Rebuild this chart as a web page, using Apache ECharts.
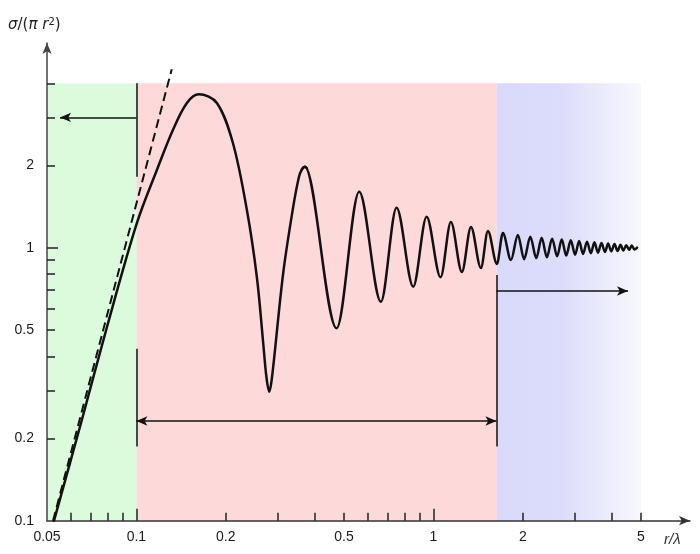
<!DOCTYPE html>
<html><head><meta charset="utf-8">
<script src="https://cdn.jsdelivr.net/npm/echarts@6/dist/echarts.min.js"></script>
<style>html,body{margin:0;padding:0;background:#fff}#c{width:700px;height:554px}</style>
</head><body><div id="c"></div>
<script>
// ---- data ----
// main lobe, first (deep) minimum and the rise to the second maximum
const headX = [0.0528,0.0655,0.0796,0.1004,0.1172,0.1327,0.1479,0.1623,
  0.1866,0.2113,0.2355,0.2544,0.2673,0.2740,0.2800,0.2862,
  0.3120,0.3373,0.3524,0.3608,0.3693,0.3751];
const headY = [0.1,0.2338,0.5124,1.232,1.926,2.699,3.389,3.647,
  3.389,2.418,1.374,0.781,0.4466,0.3360,0.2970,0.3360,
  0.8058,1.413,1.812,1.937,1.980,1.953];
// resonance / optical oscillation: successive maxima and minima
const waveX = [0.3608,0.3693,0.4721,0.5625,0.6655,0.7515,0.8551,0.9486,1.057,
  1.145,1.247,1.338,1.445,1.526,1.636,1.714,1.824,1.925,
  2.02,2.12,2.22,2.315,2.41,2.51,2.61,2.705,2.80,2.90,
  3.00,3.095,3.19,3.29,3.39,3.485,3.58,3.68,3.78,3.875,
  3.97,4.07,4.17,4.265,4.36,4.46,4.56,4.655,4.75,4.85];
const waveY = [1.937,1.980,0.5068,1.604,0.6339,1.401,0.7197,1.299,0.7791,
  1.242,0.8148,1.191,0.843,1.151,0.872,1.132,0.901,1.113,
  0.908,1.096,0.916,1.087,0.923,1.079,0.930,1.072,0.936,1.064,
  0.943,1.058,0.948,1.052,0.954,1.046,0.959,1.040,0.964,1.035,
  0.969,1.031,0.972,1.026,0.977,1.021,0.981,1.018,0.984,1.0];
// Rayleigh asymptote (dashed)
const rayleighX = [0.0524, 0.1315];
const rayleighY = [0.1, 4.5];

const xTickValues = [0.06,0.07,0.08,0.09,0.1,0.2,0.3,0.4,0.5,0.6,0.7,0.8,0.9,1,2,3,4,5];
const xMajorTicks = [0.1, 1];
const xLabelValues = [0.05,0.1,0.2,0.5,1,2,5];
const yTickValues = [0.2,0.3,0.4,0.5,0.6,0.7,0.8,0.9,1,2,3,4];
const yMajorTicks = [1];
const yLabelValues = [0.1,0.2,0.5,1,2];

// regimes: Rayleigh | Mie (resonance) | optical
const regimeEdges = [0.05, 0.1, 1.63, 5];
const regimeBottom = 0.1, regimeTop = 4;

// annotation segments [x1,y1,x2,y2]
const boundaryLines = [
  [0.1, 4, 0.1, 1.82],
  [0.1, 0.426, 0.1, 0.187],
  [1.63, 0.794, 1.63, 0.187]
];
const leftArrow = [0.1, 3.0, 0.0553, 3.0];
const midArrow = [0.1, 0.2318, 1.63, 0.2318];
const rightArrow = [1.63, 0.694, 4.52, 0.694];

// ---- chart ----
const FONT = '"Liberation Sans", Arial, sans-serif';
const X_MIN = 0.05, X_MAX = 7.31, Y_MIN = 0.1, Y_MAX = 5.62;
const fmt = v => String(parseFloat(Number(v).toPrecision(4)));
const INK = '#111';

const regionColors = [
  '#dcfbdc',
  '#fdd9d9',
  {type:'linear', x:0, y:0, x2:1, y2:0, colorStops:[
    {offset:0, color:'#d9d9fb'},{offset:0.45, color:'#dcdcfb'},{offset:1, color:'#f8f8fe'}]}
];
const areas = [];
for (let i = 0; i < regimeEdges.length - 1; i++) {
  areas.push([
    {coord:[regimeEdges[i], regimeBottom], itemStyle:{color: regionColors[i]}},
    {coord:[regimeEdges[i+1], regimeTop]}
  ]);
}
const seg = (s, a, b) => [
  {coord:[s[0], s[1]], symbol:a},
  {coord:[s[2], s[3]], symbol:b}
];
const lines = boundaryLines.map(s => seg(s, 'none', 'none'));
lines.push(seg(leftArrow, 'none', 'arrow'));
lines.push(seg(midArrow, 'arrow', 'arrow'));
lines.push(seg(rightArrow, 'none', 'arrow'));

const chart = echarts.init(document.getElementById('c'));
const baseX = {type:'log', logBase:10, min:X_MIN, max:X_MAX, splitLine:{show:false}, position:'bottom', z:3};
const baseY = {type:'log', logBase:10, min:Y_MIN, max:Y_MAX, splitLine:{show:false}, position:'left', z:3};
const tf = {fontFamily:'"DejaVu Sans", sans-serif', fontWeight:'normal', color:'#222'};
chart.setOption({
  animation:false,
  backgroundColor:'#ffffff',
  title:{
    text:'{i|σ}{n|/(}{i|π r}{s|2}{n|)}',
    left:3, top:12,
    textStyle:{fontWeight:'normal', rich:{
      i:Object.assign({fontStyle:'italic', fontSize:15}, tf),
      n:Object.assign({fontSize:15}, tf),
      s:Object.assign({fontSize:10, verticalAlign:'top', padding:[0,0,7,0]}, tf)
    }}
  },
  grid:{left:47, right:10, top:43, bottom:33.3},
  xAxis:[
    Object.assign({}, baseX, {
      name:'r/λ', nameLocation:'end', nameGap:-26,
      nameTextStyle:{fontFamily:FONT, fontStyle:'italic', fontSize:15, color:'#333', verticalAlign:'top', padding:[12,0,0,0]},
      axisLine:{show:true, symbol:['none','arrow'], symbolSize:[7,11], lineStyle:{color:'#333', width:1.5}},
      axisTick:{show:true, inside:true, length:8, customValues:xTickValues, lineStyle:{color:'#222', width:1.5}},
      axisLabel:{show:true, customValues:xLabelValues, margin:9, fontSize:14, color:'#1a1a1a', fontFamily:FONT, formatter:fmt, showMinLabel:true, showMaxLabel:true}
    }),
    Object.assign({}, baseX, {
      axisLine:{show:false},
      axisTick:{show:true, inside:true, length:12, customValues:xMajorTicks, lineStyle:{color:'#222', width:1.5}},
      axisLabel:{show:false}
    })
  ],
  yAxis:[
    Object.assign({}, baseY, {
      axisLine:{show:true, symbol:['none','arrow'], symbolSize:[7,11], lineStyle:{color:'#444', width:1.5}},
      axisTick:{show:true, inside:true, length:8, customValues:yTickValues, lineStyle:{color:'#222', width:1.5}},
      axisLabel:{show:true, customValues:yLabelValues, margin:13, fontSize:14, color:'#1a1a1a', fontFamily:FONT, formatter:fmt, showMinLabel:true}
    }),
    Object.assign({}, baseY, {
      axisLine:{show:false},
      axisTick:{show:true, inside:true, length:11, customValues:yMajorTicks, lineStyle:{color:'#222', width:1.5}},
      axisLabel:{show:false}
    })
  ],
  series:[
    {
      type:'line', z:1, silent:true, symbol:'none',
      data:[[X_MIN, Y_MIN]], lineStyle:{opacity:0},
      markArea:{silent:true, data:areas},
      markLine:{silent:true, symbolSize:[7,11], label:{show:false},
        lineStyle:{type:'solid', color:INK, width:1.5}, emphasis:{disabled:true},
        data:lines}
    },
    {
      type:'line', z:4, silent:true, symbol:'none',
      data: rayleighX.map((x,i)=>[x, rayleighY[i]]),
      lineStyle:{color:INK, width:2, type:[9,5]}
    },
    {
      type:'line', z:5, silent:true, symbol:'none', smooth:0.34,
      data: headX.map((x,i)=>[x, headY[i]]),
      lineStyle:{color:INK, width:2.5, cap:'round', join:'round'}
    },
    {
      type:'line', z:5, silent:true, symbol:'none', smooth:0.33, smoothMonotone:'x',
      data: waveX.map((x,i)=>[x, waveY[i]]),
      lineStyle:{color:INK, width:2.5, cap:'round', join:'round'}
    }
  ]
});
</script></body></html>
